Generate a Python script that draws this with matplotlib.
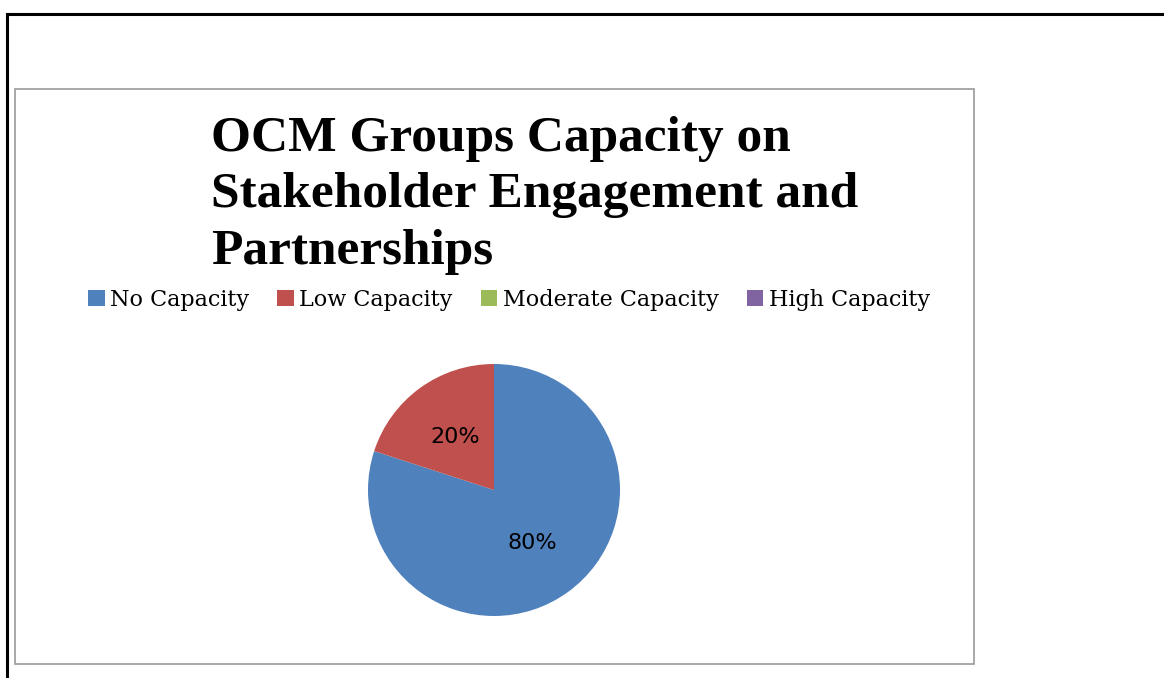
import matplotlib.pyplot as plt
from matplotlib.lines import Line2D
from matplotlib.patches import Rectangle, Patch

# chart data
categories = ["No Capacity", "Low Capacity", "Moderate Capacity", "High Capacity"]
shares = [80, 20, 0, 0]
colors = ["#4F81BD", "#C0504D", "#9BBB59", "#8064A2"]
title = "OCM Groups Capacity on\nStakeholder Engagement and\nPartnerships"

W, H = 1164, 678
fig = plt.figure(figsize=(W / 100, H / 100), dpi=100)


def fx(px):
    return px / W


def fy(py):
    return 1 - py / H


# outer black frame (top and left only) and grey chart box
fig.add_artist(Line2D([fx(7), 1], [fy(14), fy(14)], color="black", lw=2.2))
fig.add_artist(Line2D([fx(7), fx(7)], [fy(14), 0], color="black", lw=2.2))
fig.add_artist(Rectangle((fx(14.5), fy(664)), fx(974) - fx(14.5), fy(88.5) - fy(664),
                         fill=False, edgecolor="#9a9a9a", lw=1.2))

fig.text(fx(211), fy(116), title, ha="left", va="top", fontsize=37,
         fontweight="bold", family="Liberation Serif", linespacing=1.30)

ax = fig.add_axes([fx(494 - 126), fy(616), fx(252), 252 / H])


def pct(v):
    return f"{v:.0f}%" if v > 0 else ""


ax.pie(shares, colors=colors, startangle=90, counterclock=False,
       autopct=pct, pctdistance=0.52, radius=1,
       textprops=dict(fontsize=16, family="DejaVu Sans", color="black"))
ax.set_xlim(-1, 1)
ax.set_ylim(-1, 1)
ax.set_aspect("equal")

handles = [Patch(facecolor=c, edgecolor="none") for c in colors]
fig.legend(handles, categories, loc="center", bbox_to_anchor=(fx(509), fy(300)),
           ncol=4, frameon=False, handlelength=0.75, handleheight=0.75,
           handletextpad=0.25, columnspacing=1.25,
           prop=dict(family="DejaVu Serif", size=16))

fig.savefig("out.png", dpi=100, facecolor="white")
